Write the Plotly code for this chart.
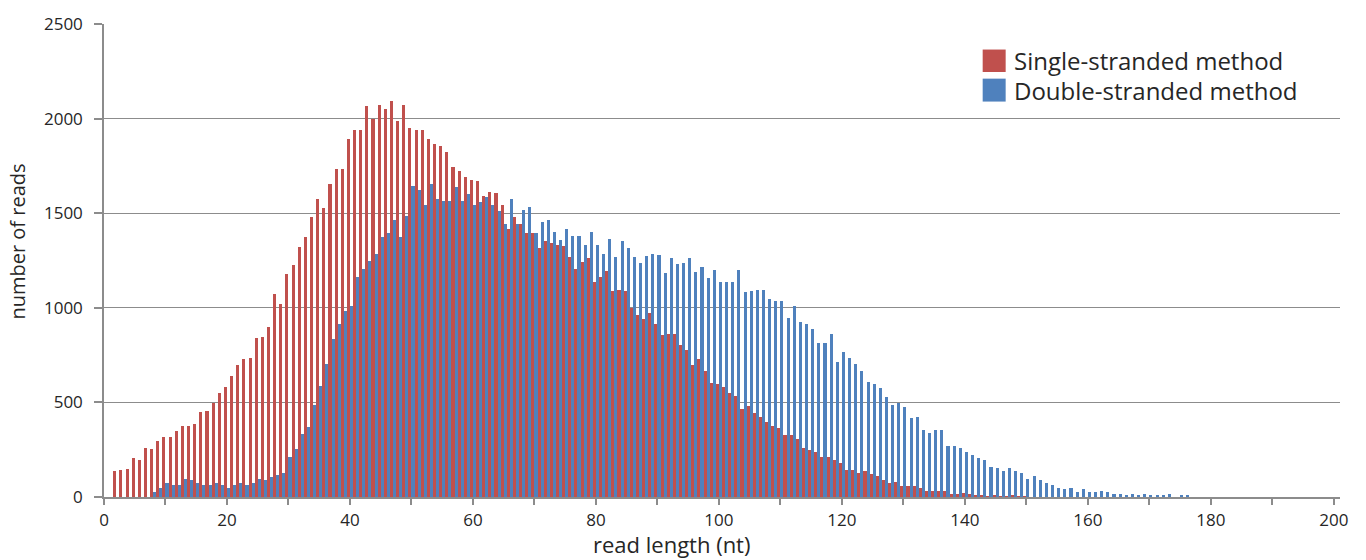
import plotly.graph_objects as go

# read length categories (nt)
lengths = list(range(1, 177))

single_stranded = [
    0, 135, 144, 149, 205, 196, 260, 253, 298, 316,
    316, 347, 377, 377, 386, 447, 456, 496, 549, 581,
    637, 698, 730, 737, 838, 847, 900, 1073, 1019, 1179,
    1224, 1324, 1372, 1482, 1575, 1530, 1652, 1736, 1731, 1894,
    1942, 1942, 2066, 1996, 2073, 2052, 2091, 1987, 2073, 1950,
    1942, 1942, 1894, 1864, 1856, 1824, 1745, 1722, 1693, 1675,
    1670, 1591, 1614, 1605, 1544, 1418, 1479, 1444, 1395, 1395,
    1316, 1354, 1342, 1333, 1325, 1270, 1207, 1240, 1263, 1137,
    1161, 1193, 1087, 1096, 1087, 1000, 961, 942, 970, 917,
    856, 863, 863, 802, 775, 698, 731, 667, 605, 596,
    582, 549, 535, 465, 479, 442, 424, 395, 377, 363,
    330, 330, 307, 258, 251, 237, 210, 210, 196, 181,
    144, 142, 126, 135, 119, 110, 88, 74, 79, 58,
    58, 58, 49, 32, 32, 32, 32, 18, 18, 23,
    18, 12, 9, 5, 9, 4, 3, 8, 2, 2,
    0, 0, 0, 0, 0, 0, 0, 0, 0, 0,
    0, 0, 0, 0, 0, 0, 0, 0, 0, 0,
    0, 0, 0, 0, 0, 0,
]

double_stranded = [
    0, 0, 0, 0, 0, 0, 0, 26, 49, 74,
    65, 65, 96, 88, 74, 65, 65, 74, 65, 49,
    65, 74, 65, 74, 96, 88, 105, 114, 128, 214,
    254, 333, 368, 488, 589, 705, 833, 917, 982, 1012,
    1161, 1205, 1245, 1286, 1373, 1394, 1465, 1373, 1487, 1645,
    1622, 1544, 1652, 1575, 1566, 1566, 1637, 1566, 1600, 1544,
    1561, 1584, 1544, 1514, 1444, 1575, 1444, 1518, 1535, 1395,
    1456, 1465, 1400, 1356, 1418, 1381, 1381, 1333, 1400, 1330,
    1284, 1363, 1268, 1351, 1316, 1268, 1237, 1275, 1284, 1280,
    1184, 1263, 1231, 1237, 1263, 1189, 1216, 1158, 1198, 1137,
    1137, 1137, 1198, 1082, 1091, 1096, 1096, 1049, 1035, 1035,
    947, 1012, 926, 917, 886, 816, 816, 863, 714, 768,
    737, 705, 667, 610, 596, 574, 531, 488, 496, 477,
    416, 424, 354, 339, 354, 354, 267, 267, 260, 237,
    223, 207, 196, 158, 153, 135, 153, 135, 128, 96,
    112, 88, 74, 65, 47, 40, 49, 26, 42, 26,
    26, 33, 26, 18, 18, 11, 18, 11, 18, 11,
    11, 11, 18, 0, 11, 11,
]

x_tick_values = [0, 20, 40, 60, 80, 100, 120, 140, 160, 180, 200]
series_names = ["Single-stranded method", "Double-stranded method"]
series_colors = ["#C0504D", "#4F81BD"]

FONT = "Open Sans, Liberation Sans, sans-serif"
GRID = "#8c8c8c"
TEXT = "#262626"

fig = go.Figure()
fig.add_trace(go.Bar(x=lengths, y=single_stranded, name=series_names[0],
                     marker=dict(color=series_colors[0], line=dict(width=0)),
                     showlegend=False))
fig.add_trace(go.Bar(x=lengths, y=double_stranded, name=series_names[1],
                     marker=dict(color=series_colors[1], line=dict(width=0)),
                     showlegend=False))

fig.update_layout(
    width=1366, height=560,
    margin=dict(l=104, r=25.5, t=21, b=63),
    paper_bgcolor="white", plot_bgcolor="white",
    barmode="group", bargap=0, bargroupgap=0,
    font=dict(family=FONT, size=17, color=TEXT),
)

fig.update_xaxes(
    range=[0, 201], tickvals=x_tick_values, ticktext=[str(v) for v in x_tick_values],
    showgrid=False, zeroline=False,
    showline=True, linecolor=GRID, linewidth=1.5,
    ticks="outside", ticklen=6, tickcolor=GRID, tickwidth=1.5,
    minor=dict(dtick=10, tick0=0, ticks="outside", ticklen=6, tickcolor=GRID, tickwidth=1.5, showgrid=False),
    tickfont=dict(family=FONT, size=17, color=TEXT),
    ticklabelstandoff=1,
)
fig.update_yaxes(
    range=[0, 2500], dtick=500, tick0=0,
    showgrid=True, gridcolor=GRID, gridwidth=1,
    zeroline=False, showline=True, linecolor=GRID, linewidth=1.5,
    ticks="outside", ticklen=8, tickcolor=GRID, tickwidth=1.5,
    tickfont=dict(family=FONT, size=17, color=TEXT),
    ticklabelstandoff=8,
)

# axis titles
fig.add_annotation(text="read length (nt)", xref="paper", yref="paper",
                   x=0.459, y=-0.099, xanchor="center", yanchor="middle",
                   showarrow=False, font=dict(family=FONT, size=22, color=TEXT))
fig.add_annotation(text="number of reads", xref="paper", yref="paper",
                   x=-0.0696, y=0.54, xanchor="center", yanchor="middle", textangle=-90,
                   showarrow=False, font=dict(family=FONT, size=20, color=TEXT))

# legend (drawn to match the reference's large swatches)
legend_rows = [(0.8985, 0.946, 0.922), (0.836, 0.8845, 0.860)]
for name, color, (y0, y1, yt) in zip(series_names, series_colors, legend_rows):
    fig.add_shape(type="rect", xref="paper", yref="paper",
                  x0=0.7109, x1=0.7295, y0=y0, y1=y1,
                  fillcolor=color, line=dict(width=0))
    fig.add_annotation(text=name, xref="paper", yref="paper",
                       x=0.735, y=yt, xanchor="left", yanchor="middle",
                       showarrow=False, font=dict(family=FONT, size=24, color=TEXT))

fig.write_html("out.html",
               config={"displayModeBar": False},
               post_script="document.body.style.margin='0';document.body.style.overflow='hidden';")
